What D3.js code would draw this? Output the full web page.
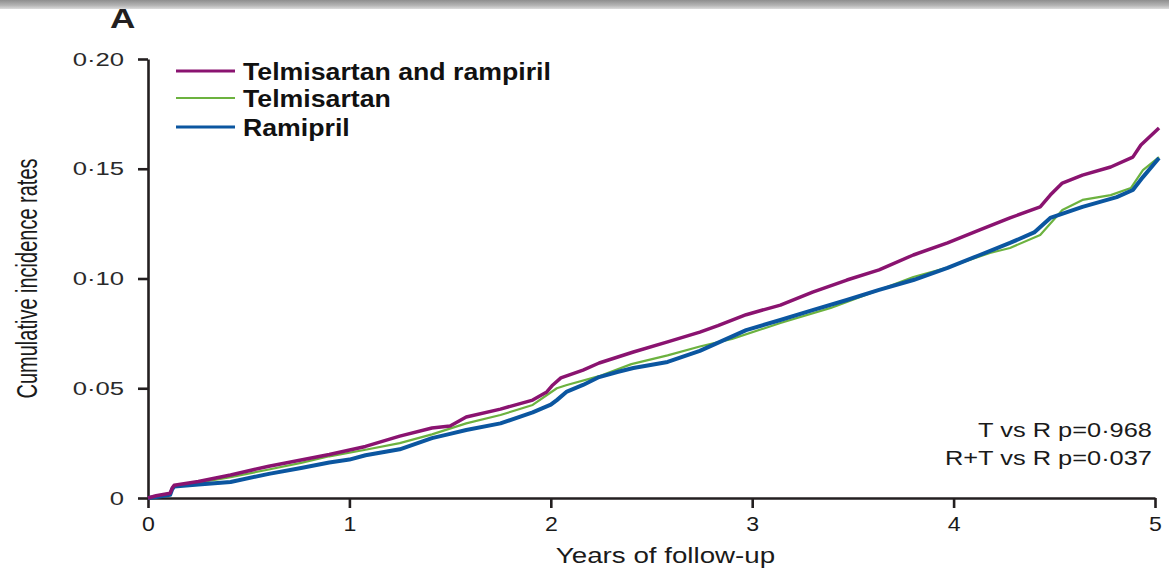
<!DOCTYPE html>
<html>
<head>
<meta charset="utf-8">
<script src="https://cdn.jsdelivr.net/npm/d3@7"></script>
<style>
  body { margin: 0; background: #fff; }
  svg { display: block; font-family: "Liberation Sans", Arial, sans-serif; }
</style>
</head>
<body>
<div id="chart"></div>
<script>
// cumulative incidence, [years, rate]
const telRamPoints = [
  [0, 0], [0.04, 0.001], [0.11, 0.0022], [0.12, 0.0045], [0.13, 0.0058], [0.25, 0.0075],
  [0.41, 0.0105], [0.6, 0.0145], [0.76, 0.0173], [0.9, 0.0198], [1.08, 0.0235], [1.25, 0.0282],
  [1.41, 0.0319], [1.5, 0.0328], [1.58, 0.0369], [1.75, 0.0405], [1.91, 0.0446], [1.98, 0.0483],
  [2.01, 0.0515], [2.05, 0.0547], [2.16, 0.0583], [2.24, 0.0615], [2.41, 0.0665], [2.58, 0.0711],
  [2.74, 0.0756], [2.83, 0.0785], [2.97, 0.0835], [3.14, 0.0879], [3.3, 0.0938], [3.47, 0.0993],
  [3.63, 0.1039], [3.8, 0.1107], [3.97, 0.1162], [4.13, 0.1221], [4.28, 0.1276], [4.43, 0.1326],
  [4.48, 0.138], [4.54, 0.1435], [4.64, 0.1471], [4.78, 0.1508], [4.89, 0.1553], [4.93, 0.1608],
  [5.02, 0.1686]
];
const telPoints = [
  [0, 0], [0.04, 0.0008], [0.11, 0.002], [0.12, 0.004], [0.13, 0.0055], [0.25, 0.007],
  [0.41, 0.0095], [0.6, 0.013], [0.76, 0.016], [0.9, 0.019], [1.08, 0.022], [1.25, 0.025],
  [1.41, 0.029], [1.58, 0.034], [1.75, 0.0378], [1.91, 0.0424], [2.03, 0.05], [2.08, 0.0515],
  [2.24, 0.0555], [2.4, 0.061], [2.58, 0.065], [2.74, 0.069], [2.9, 0.0725], [3.14, 0.0797],
  [3.39, 0.0866], [3.63, 0.0948], [3.8, 0.1007], [3.97, 0.105], [4.18, 0.1116], [4.28, 0.1139],
  [4.43, 0.1198], [4.54, 0.1312], [4.64, 0.1358], [4.78, 0.138], [4.88, 0.1412], [4.94, 0.1494],
  [5.02, 0.1553]
];
const ramPoints = [
  [0, 0], [0.04, 0.0005], [0.11, 0.0015], [0.12, 0.004], [0.13, 0.0052], [0.25, 0.0062],
  [0.41, 0.0073], [0.6, 0.011], [0.76, 0.0137], [0.9, 0.0162], [1.0, 0.0175], [1.08, 0.0195],
  [1.25, 0.0222], [1.41, 0.0273], [1.5, 0.0292], [1.58, 0.031], [1.75, 0.034], [1.91, 0.039],
  [2.0, 0.0425], [2.03, 0.0446], [2.08, 0.0485], [2.16, 0.0515], [2.24, 0.0551], [2.33, 0.0574],
  [2.41, 0.0592], [2.58, 0.062], [2.74, 0.067], [2.97, 0.0765], [3.14, 0.0811], [3.3, 0.0856],
  [3.47, 0.0902], [3.63, 0.0948], [3.8, 0.0993], [3.97, 0.1048], [4.13, 0.1107], [4.28, 0.1162],
  [4.4, 0.121], [4.48, 0.1276], [4.64, 0.1326], [4.81, 0.1371], [4.89, 0.1403], [4.94, 0.1462],
  [5.02, 0.1549]
];

const seriesNames = ["Telmisartan and rampiril", "Telmisartan", "Ramipril"];
const yTicks = [0, 0.05, 0.10, 0.15, 0.20];
const xTicks = [0, 1, 2, 3, 4, 5];
const pValueLabels = ["T vs R p=0·968", "R+T vs R p=0·037"];

const width = 1169, height = 576;
const colors = {"Telmisartan and rampiril": "#8a1370", "Telmisartan": "#6cb23f", "Ramipril": "#0b56a0"};
const strokeW = {"Telmisartan and rampiril": 3.5, "Telmisartan": 2.2, "Ramipril": 4};

const x = d3.scaleLinear().domain([0, 5]).range([148, 1155]);
const y = d3.scaleLinear().domain([0, 0.2]).range([498, 59]);

const svg = d3.select("#chart").append("svg")
  .attr("width", width)
  .attr("height", height);

// picture is stretched sideways, so widen text to match
function stretch(sel, k) {
  sel.each(function() {
    const w = this.getComputedTextLength();
    d3.select(this).attr("textLength", w * k).attr("lengthAdjust", "spacingAndGlyphs");
  });
}

// grey band at the very top
const grad = svg.append("defs").append("linearGradient")
  .attr("id", "topband").attr("x1", 0).attr("y1", 0).attr("x2", 0).attr("y2", 1);
grad.append("stop").attr("offset", "0%").attr("stop-color", "#8e8e8e");
grad.append("stop").attr("offset", "60%").attr("stop-color", "#b4b4b4");
grad.append("stop").attr("offset", "100%").attr("stop-color", "#dcdcdc");
svg.append("rect").attr("x", 0).attr("y", 0).attr("width", width).attr("height", 9)
  .attr("fill", "url(#topband)");

// panel letter
svg.append("text")
  .attr("x", 110).attr("y", 28)
  .style("font-size", "27px").style("font-weight", "bold").attr("fill", "#231f20")
  .text("A")
  .call(stretch, 1.3);

const fmt = v => v === 0 ? "0" : d3.format(".2f")(v).replace(".", "·");

const yAxis = svg.append("g")
  .attr("transform", `translate(${x(0)},0)`)
  .call(d3.axisLeft(y).tickValues(yTicks).tickFormat(fmt).tickSize(10).tickSizeOuter(0).tickPadding(14));

const xAxis = svg.append("g")
  .attr("transform", `translate(0,${y(0)})`)
  .call(d3.axisBottom(x).tickValues(xTicks).tickFormat(d3.format("d")).tickSize(10).tickSizeOuter(0).tickPadding(8));

[yAxis, xAxis].forEach(ax => {
  ax.select(".domain").attr("stroke", "#231f20").attr("stroke-width", 2.6);
  ax.selectAll(".tick line").attr("stroke", "#231f20").attr("stroke-width", 2.6);
  ax.selectAll(".tick text").attr("font-family", null);
});

yAxis.selectAll(".tick text")
  .attr("fill", "#2a2a2a")
  .style("font-size", "19px")
  .call(stretch, 1.35);

xAxis.selectAll(".tick text")
  .attr("fill", "#1a1a1a")
  .style("font-size", "21px")
  .call(stretch, 1.1);

// axis titles
svg.append("text")
  .attr("transform", `translate(37,${(y(0) + y(0.2)) / 2}) rotate(-90) scale(1,1.3)`)
  .attr("text-anchor", "middle")
  .style("font-size", "23px").attr("fill", "#1a1a1a")
  .attr("textLength", 240).attr("lengthAdjust", "spacingAndGlyphs")
  .text("Cumulative incidence rates");

svg.append("text")
  .attr("x", (x(0) + x(5)) / 2 + 14).attr("y", 563)
  .attr("text-anchor", "middle")
  .style("font-size", "22px").attr("fill", "#1a1a1a")
  .text("Years of follow-up")
  .call(stretch, 1.26);

// curves: green under blue, purple on top
const line = d3.line().x(d => x(d[0])).y(d => y(d[1]));
const seriesData = {
  "Telmisartan and rampiril": telRamPoints,
  "Telmisartan": telPoints,
  "Ramipril": ramPoints
};
["Telmisartan", "Ramipril", "Telmisartan and rampiril"].forEach(name => {
  svg.append("path")
    .datum(seriesData[name])
    .attr("fill", "none")
    .attr("stroke", colors[name])
    .attr("stroke-width", strokeW[name])
    .attr("stroke-linejoin", "round")
    .attr("d", line);
});

// legend
const legend = svg.append("g").attr("transform", "translate(176,71)");
seriesNames.forEach((name, i) => {
  const row = legend.append("g").attr("transform", `translate(0,${[0, 27, 56][i]})`);
  row.append("line")
    .attr("x1", 0).attr("x2", 59).attr("y1", 0).attr("y2", 0)
    .attr("stroke", colors[name]).attr("stroke-width", name === "Telmisartan" ? 2 : 3);
  row.append("text")
    .attr("x", 67).attr("y", 8.5)
    .style("font-size", "23px").style("font-weight", "bold").attr("fill", "#111")
    .text(name)
    .call(stretch, 1.16);
});

// p values
svg.selectAll(".pval")
  .data(pValueLabels)
  .join("text")
  .attr("class", "pval")
  .attr("x", 1152).attr("y", (d, i) => 437 + i * 28)
  .attr("text-anchor", "end")
  .style("font-size", "20px").attr("fill", "#1a1a1a")
  .text(d => d)
  .call(stretch, 1.27);
</script>
</body>
</html>
